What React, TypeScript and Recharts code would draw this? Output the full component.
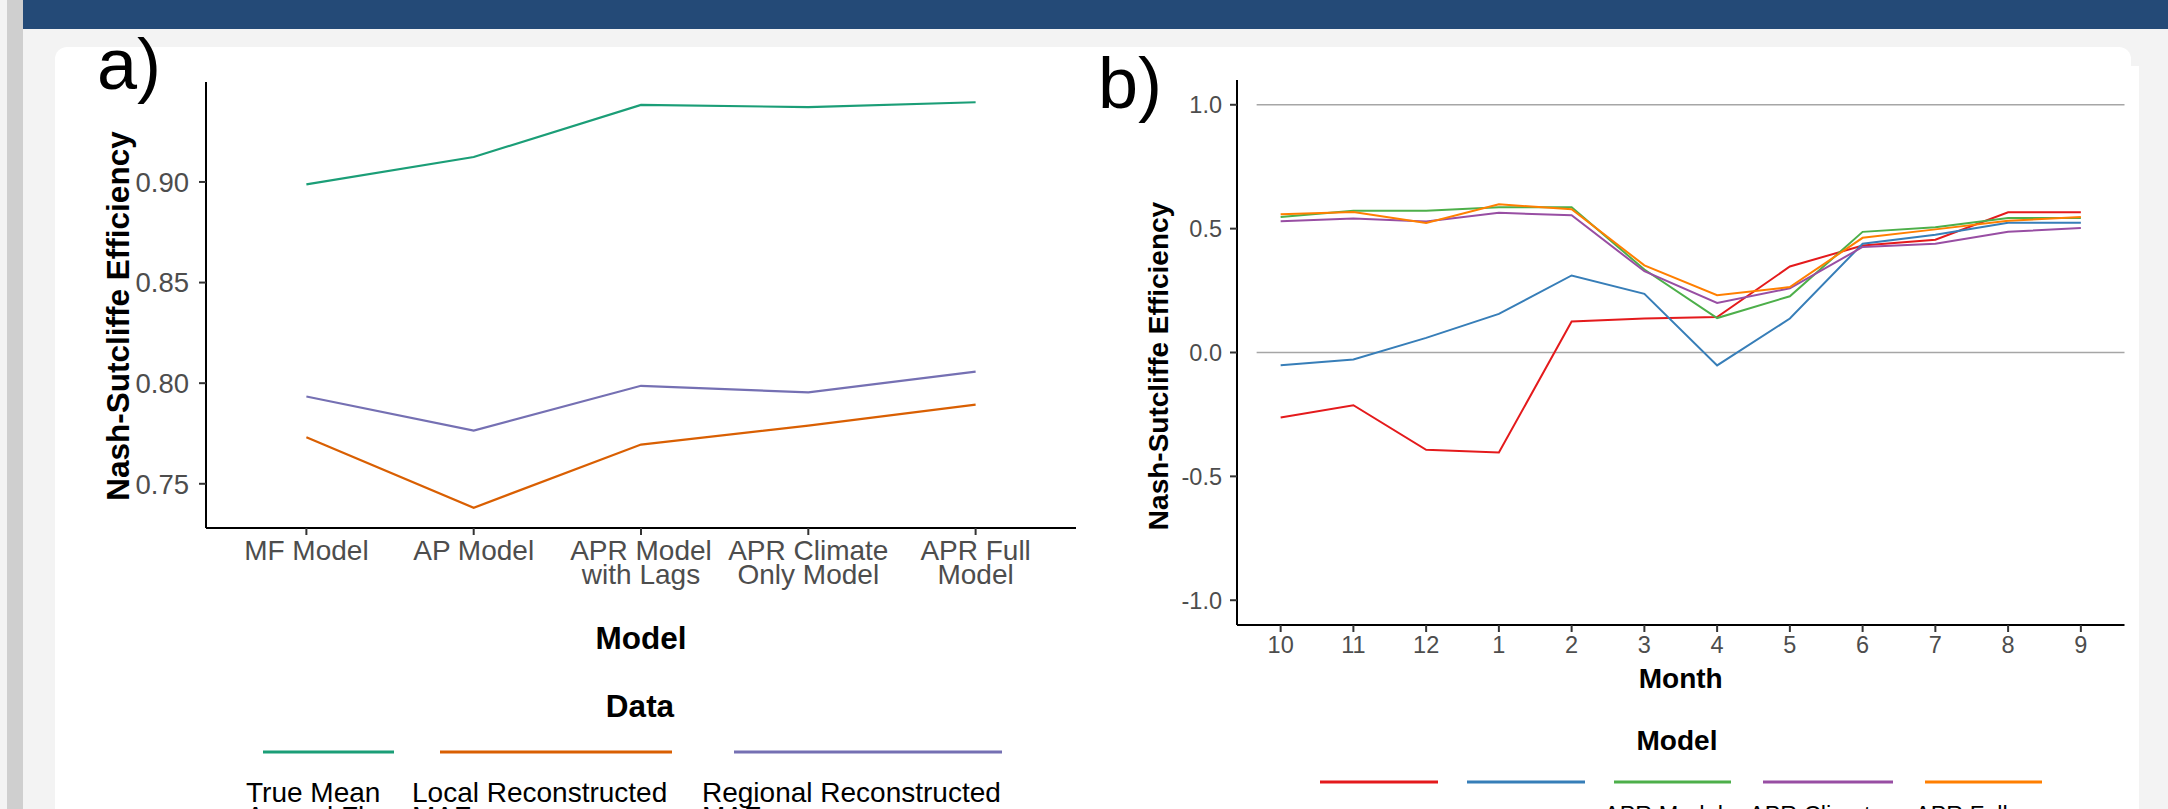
import React from 'react'
import { LineChart, Line, XAxis, YAxis, ReferenceLine, Label } from 'recharts'

const FONT = '"Liberation Sans", Arial, Helvetica, sans-serif'
const TICK_GREY = '#4d4d4d'

// panel a) - NSE of annual models, one line per data source
const modelTicks = [['MF Model'], ['AP Model'], ['APR Model', 'with Lags'], ['APR Climate', 'Only Model'], ['APR Full', 'Model']]
const trueMeanFlow = [0.8988, 0.9124, 0.9383, 0.9372, 0.9396]
const localMaf = [0.7731, 0.7381, 0.7695, 0.7789, 0.7893]
const regionalMaf = [0.7934, 0.7764, 0.7987, 0.7954, 0.8057]
const nseTicksA = [0.75, 0.8, 0.85, 0.9]
const dataLabels = [['True Mean', 'Annual Flow'], ['Local Reconstructed', 'MAF'], ['Regional Reconstructed', 'MAF']]
const dataColors = ['#1b9e77', '#d95f02', '#7570b3']

// panel b) - monthly NSE, one line per model
const months = ['10', '11', '12', '1', '2', '3', '4', '5', '6', '7', '8', '9']
const mfMonthly = [-0.262, -0.213, -0.393, -0.404, 0.125, 0.137, 0.143, 0.347, 0.432, 0.455, 0.566, 0.566]
const apMonthly = [-0.051, -0.028, 0.059, 0.156, 0.311, 0.237, -0.052, 0.137, 0.439, 0.475, 0.524, 0.524]
const aprLagsMonthly = [0.547, 0.572, 0.572, 0.586, 0.586, 0.335, 0.139, 0.227, 0.487, 0.506, 0.543, 0.543]
const aprClimateMonthly = [0.53, 0.541, 0.529, 0.564, 0.554, 0.328, 0.2, 0.259, 0.426, 0.439, 0.487, 0.503]
const aprFullMonthly = [0.558, 0.567, 0.523, 0.598, 0.578, 0.352, 0.231, 0.264, 0.463, 0.497, 0.532, 0.547]
const nseTicksB = [-1, -0.5, 0, 0.5, 1]
const refLevels = [1, 0]
const modelLabels = [['MF Model'], ['AP Model'], ['APR Model', 'with Lags'], ['APR Climate', 'Only Model'], ['APR Full', 'Model']]
const modelColors = ['#e41a1c', '#377eb8', '#4daf4a', '#984ea3', '#ff7f00']

const seriesA = [trueMeanFlow, localMaf, regionalMaf]
const seriesB = [mfMonthly, apMonthly, aprLagsMonthly, aprClimateMonthly, aprFullMonthly]

const rowsA = modelTicks.map((_, i) => {
  const r: Record<string, number> = { idx: i }
  seriesA.forEach((s, k) => (r['s' + k] = s[i]))
  return r
})
const rowsB = months.map((_, i) => {
  const r: Record<string, number> = { idx: i }
  seriesB.forEach((s, k) => (r['m' + k] = s[i]))
  return r
})

// ggplot style 5% expansion
const allA = seriesA.flat()
const loA = Math.min(...allA)
const hiA = Math.max(...allA)
const padA = (hiA - loA) * 0.05
const padB = (nseTicksB[nseTicksB.length - 1] - nseTicksB[0]) * 0.05

const axisLine = { stroke: '#000', strokeWidth: 2 }
const tickLine = { stroke: '#333', strokeWidth: 2 }

const ModelTick = (props: any) => {
  const { x, y, payload } = props
  const lines = modelTicks[payload.value] || []
  return (
    <text x={x} y={y} textAnchor="middle" fill={TICK_GREY} fontSize={28} fontFamily={FONT}>
      {lines.map((l, i) => (
        <tspan key={i} x={x} dy={i === 0 ? 20 : 24}>{l}</tspan>
      ))}
    </text>
  )
}

const VerticalTitle = ({ vb, dx, shift, size }: any) => {
  const x = vb.x + dx
  const y = vb.y + vb.height / 2 + shift
  return (
    <text x={x} y={y} transform={`rotate(-90 ${x} ${y})`} textAnchor="middle" fontSize={size} fontWeight="bold" fill="#000" fontFamily={FONT}>
      Nash-Sutcliffe Efficiency
    </text>
  )
}

function PanelA() {
  return (
    <LineChart width={1090} height={809} data={rowsA} margin={{ top: 82, right: 14, bottom: 0, left: 0 }}>
      <XAxis
        dataKey="idx"
        type="number"
        domain={[-0.6, modelTicks.length - 0.4]}
        ticks={modelTicks.map((_, i) => i)}
        interval={0}
        height={281}
        tickSize={7}
        tickMargin={5}
        axisLine={axisLine}
        tickLine={tickLine}
        tick={<ModelTick />}
      >
        <Label value="Model" position="insideTop" offset={99} fontSize={31.5} fontWeight="bold" fill="#000" fontFamily={FONT} />
      </XAxis>
      <YAxis
        type="number"
        domain={[loA - padA, hiA + padA]}
        ticks={nseTicksA}
        interval={0}
        width={206}
        tickSize={7}
        tickMargin={10}
        tickFormatter={(v: number) => v.toFixed(2)}
        tick={{ fill: TICK_GREY, fontSize: 27.5, fontFamily: FONT }}
        axisLine={axisLine}
        tickLine={tickLine}
      >
        <Label content={(p: any) => <VerticalTitle vb={p.viewBox} dx={129} shift={11} size={31.5} />} />
      </YAxis>
      {seriesA.map((_, k) => (
        <Line key={k} type="linear" dataKey={'s' + k} stroke={dataColors[k]} strokeWidth={2.2} dot={false} activeDot={false} isAnimationActive={false} />
      ))}
    </LineChart>
  )
}

function PanelB() {
  return (
    <LineChart width={1078} height={809} data={rowsB} margin={{ top: 80, right: 43.5, bottom: 0, left: 0 }}>
      <XAxis
        dataKey="idx"
        type="number"
        domain={[-0.6, months.length - 0.4]}
        ticks={months.map((_, i) => i)}
        interval={0}
        height={184}
        tickSize={7}
        tickMargin={4}
        tickFormatter={(i: number) => months[i]}
        tick={{ fill: TICK_GREY, fontSize: 23.5, fontFamily: FONT }}
        axisLine={axisLine}
        tickLine={tickLine}
      >
        <Label value="Month" position="insideTop" offset={43} fontSize={28} fontWeight="bold" fill="#000" fontFamily={FONT} />
      </XAxis>
      <YAxis
        type="number"
        domain={[nseTicksB[0] - padB, nseTicksB[nseTicksB.length - 1] + padB]}
        ticks={nseTicksB}
        interval={0}
        width={147}
        tickSize={7}
        tickMargin={8}
        tickFormatter={(v: number) => v.toFixed(1)}
        tick={{ fill: TICK_GREY, fontSize: 23.5, fontFamily: FONT }}
        axisLine={axisLine}
        tickLine={tickLine}
      >
        <Label content={(p: any) => <VerticalTitle vb={p.viewBox} dx={78} shift={13.5} size={28} />} />
      </YAxis>
      {refLevels.map((v) => (
        <ReferenceLine key={v} segment={[{ x: -0.33, y: v }, { x: months.length - 0.4, y: v }]} stroke="#a6a6a6" strokeWidth={1.6} />
      ))}
      {seriesB.map((_, k) => (
        <Line key={k} type="linear" dataKey={'m' + k} stroke={modelColors[k]} strokeWidth={2} dot={false} activeDot={false} isAnimationActive={false} />
      ))}
    </LineChart>
  )
}

// legend layout (pixel positions of the keys and labels)
const keyA = [[263, 394], [440, 672], [734, 1002]]
const labelXA = [246, 412, 702]
const keyB = [[1320, 1438], [1467, 1585], [1614, 1731], [1763, 1893], [1925, 2042]]
const labelXB = [1310, 1457, 1604, 1749, 1915]

function Overlay() {
  return (
    <svg width={2168} height={809} style={{ position: 'absolute', left: 0, top: 0, pointerEvents: 'none' }} fontFamily={FONT}>
      <text x={97} y={89} fontSize={72} fill="#000">a)</text>
      <text x={1098} y={108} fontSize={72} fill="#000">b)</text>

      <text x={640} y={717} textAnchor="middle" fontSize={31.5} fontWeight="bold" fill="#000">Data</text>
      {dataLabels.map((lines, i) => (
        <g key={i}>
          <line x1={keyA[i][0]} x2={keyA[i][1]} y1={752} y2={752} stroke={dataColors[i]} strokeWidth={3} />
          <text x={labelXA[i]} y={802} fontSize={28} fill="#000">
            {lines.map((l, j) => (
              <tspan key={j} x={labelXA[i]} dy={j === 0 ? 0 : 24}>{l}</tspan>
            ))}
          </text>
        </g>
      ))}

      <text x={1677} y={750} textAnchor="middle" fontSize={28} fontWeight="bold" fill="#000">Model</text>
      {modelLabels.map((lines, i) => (
        <g key={i}>
          <line x1={keyB[i][0]} x2={keyB[i][1]} y1={782} y2={782} stroke={modelColors[i]} strokeWidth={3} />
          <text x={labelXB[i]} y={lines.length > 1 ? 823 : 834} fontSize={23.5} fill="#000">
            {lines.map((l, j) => (
              <tspan key={j} x={labelXB[i]} dy={j === 0 ? 0 : 21}>{l}</tspan>
            ))}
          </text>
        </g>
      ))}
    </svg>
  )
}

export default function App() {
  return (
    <div style={{ position: 'fixed', left: 0, top: 0, width: 2168, height: 809, overflow: 'hidden', background: '#f3f3f3', fontFamily: FONT }}>
      <div style={{ position: 'absolute', left: 7, top: 0, width: 16, height: 809, background: '#cfcfcf' }} />
      <div style={{ position: 'absolute', left: 23, top: 0, right: 0, height: 29, background: '#244a77' }} />
      <div style={{ position: 'absolute', left: 55, top: 47, width: 2076, height: 820, background: '#fff', borderRadius: 12 }} />
      <div style={{ position: 'absolute', left: 2120, top: 66, width: 19, height: 760, background: '#fff' }} />
      <div style={{ position: 'absolute', left: 0, top: 0 }}>
        <PanelA />
      </div>
      <div style={{ position: 'absolute', left: 1090, top: 0 }}>
        <PanelB />
      </div>
      <Overlay />
    </div>
  )
}
